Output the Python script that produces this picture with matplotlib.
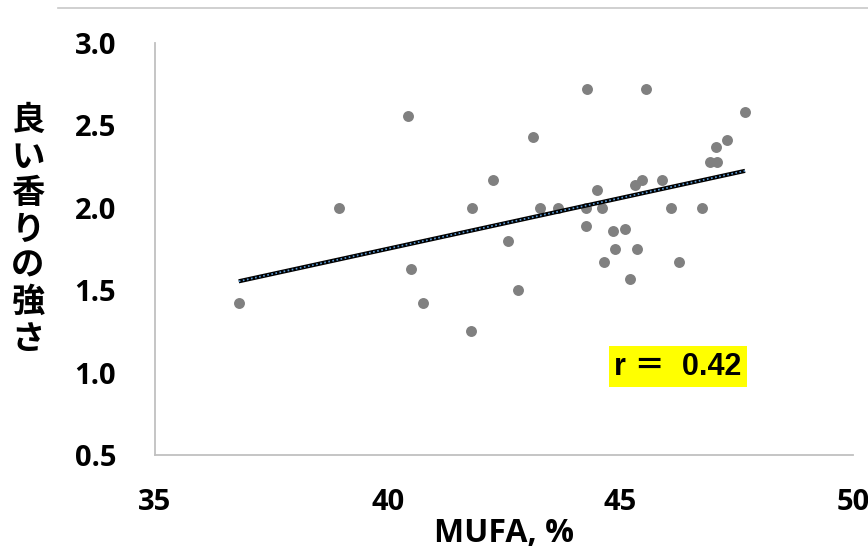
import numpy as np
import matplotlib
matplotlib.use("Agg")
import matplotlib.pyplot as plt
from matplotlib.lines import Line2D

mufa = [36.8, 38.95, 40.44, 40.5, 40.76, 41.79, 41.81, 42.26, 42.59, 42.8,
        43.12, 43.27, 43.66, 44.28, 44.26, 44.26, 44.5, 44.61, 44.65, 44.84,
        44.89, 45.1, 45.21, 45.32, 45.36, 45.47, 45.55, 45.9, 46.09, 46.26,
        46.76, 46.93, 47.08, 47.06, 47.29, 47.68]
aroma = [1.42, 2.0, 2.56, 1.63, 1.42, 1.25, 2.0, 2.17, 1.8, 1.5,
         2.43, 2.0, 2.0, 2.72, 1.89, 2.0, 2.11, 2.0, 1.67, 1.86,
         1.75, 1.87, 1.57, 2.14, 1.75, 2.17, 2.72, 2.17, 2.0, 1.67,
         2.0, 2.28, 2.28, 2.37, 2.41, 2.58]
xticks = [35, 40, 45, 50]
yticks = [0.5, 1.0, 1.5, 2.0, 2.5, 3.0]
ylabel = "良い香りの強さ"
xlabel = "MUFA, %"
r_text = "r ＝  0.42"

x = np.array(mufa)
y = np.array(aroma)

fig = plt.figure(figsize=(8.68, 5.52), dpi=100)
ax = fig.add_axes([155/868, (552-455)/552, (853-155)/868, (455-43)/552])

ax.scatter(x, y, s=62, color="#808080", zorder=3, linewidths=0)
k, b = np.polyfit(x, y, 1)
xl = np.array([x.min(), x.max()])
ax.plot(xl, k*xl + b, color="black", lw=3, zorder=4, solid_capstyle="butt")
ax.plot(xl, k*xl + b, color="#5b9bd5", lw=1.2, ls=(0, (1, 1.5)), zorder=5)

ax.set_xlim(35, 50)
ax.set_ylim(0.5, 3.0)
ax.set_xticks(xticks)
ax.set_yticks(yticks)
ax.set_xticklabels([str(t) for t in xticks])
ax.set_yticklabels([f"{t:.1f}" for t in yticks])
ax.tick_params(length=0, labelsize=21)
for lab in ax.get_xticklabels() + ax.get_yticklabels():
    lab.set_fontfamily(["Open Sans", "DejaVu Sans"])
    lab.set_fontweight("bold")
ax.tick_params(axis="y", pad=28)
ax.tick_params(axis="x", pad=24)
for s in ["top", "right"]:
    ax.spines[s].set_visible(False)
for s in ["left", "bottom"]:
    ax.spines[s].set_color("#c0c0c0")
    ax.spines[s].set_linewidth(1.3)

ax.text(0.5, -0.19, xlabel, transform=ax.transAxes, ha="center", va="center",
        fontsize=23, fontweight="bold", family=["Open Sans", "DejaVu Sans"])

fig.text(28/868, 1-230/552, "\n".join(ylabel), ha="center", va="center",
         fontsize=24, fontweight="bold", family=["Noto Sans CJK JP", "DejaVu Sans"],
         linespacing=1.13)

ax.text(0.749, 0.2136, r_text, transform=ax.transAxes, ha="center", va="center",
        fontsize=22, fontweight="bold",
        family=["Liberation Sans", "Noto Sans CJK JP", "DejaVu Sans"],
        bbox=dict(facecolor="#ffff00", edgecolor="none", pad=4), zorder=6)

fig.add_artist(Line2D([58/868, 1], [1-8/552, 1-8/552], color="#c8c8c8", lw=1.2,
                      transform=fig.transFigure))

fig.savefig("out.png", dpi=100)
